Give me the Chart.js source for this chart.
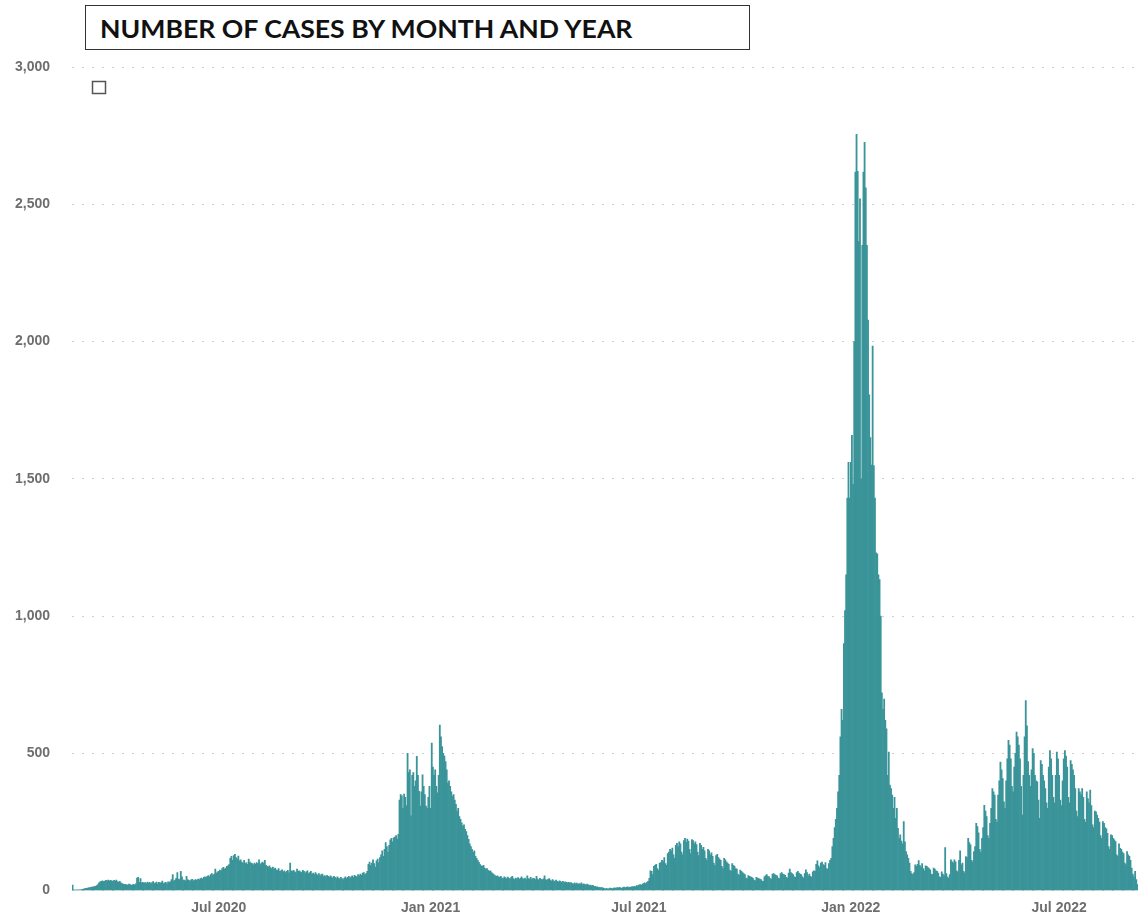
<!DOCTYPE html>
<html>
<head>
<meta charset="utf-8">
<title>Number of cases by month and year</title>
<script src="https://cdn.jsdelivr.net/npm/chart.js@4.4.1/dist/chart.umd.min.js"></script>
<style>
  body { margin: 0; background: #fff; }
  #wrap { position: relative; width: 1138px; height: 921px; }
  #title {
    position: absolute; left: 85px; top: 5px; width: 663px; height: 43px;
    border: 1.5px solid #333; background: #fff;
    display: flex; align-items: center; overflow: hidden;
  }
  #title span {
    margin-left: 14px; white-space: nowrap; transform-origin: left center;
    font: bold 25px Lato, "Liberation Sans", sans-serif; color: #111;
  }
</style>
</head>
<body>
<div id="wrap">
  <canvas id="chart" width="1138" height="921"></canvas>
  <div id="title"><span id="titleText">NUMBER OF CASES BY MONTH AND YEAR</span></div>
</div>
<script>
// daily case counts, one array per month (first day: 25 Feb 2020)
const feb2020 = [20, 3, 2, 2, 3];
const mar2020 = [2, 3, 3, 4, 5, 6, 7, 8, 9, 10, 11, 12, 13, 14, 15, 16, 18, 22, 28, 32, 34, 36, 33, 35, 37, 36, 38, 35, 37, 36, 34];
const apr2020 = [37, 35, 38, 33, 30, 34, 28, 26, 24, 22, 23, 21, 20, 24, 22, 19, 21, 23, 20, 25, 46, 48, 30, 44, 28, 30, 27, 29, 26, 31];
const may2020 = [27, 30, 25, 29, 33, 26, 28, 31, 24, 30, 27, 29, 35, 26, 28, 30, 25, 32, 29, 33, 40, 58, 35, 38, 45, 66, 42, 40, 70, 50, 38];
const jun2020 = [38, 36, 52, 40, 37, 35, 39, 41, 36, 38, 40, 37, 42, 39, 44, 46, 42, 48, 50, 47, 52, 55, 50, 58, 62, 56, 60, 78, 64, 68];
const jul2020 = [70, 75, 72, 80, 85, 78, 82, 88, 90, 95, 118, 125, 110, 128, 132, 120, 115, 126, 108, 112, 104, 100, 110, 98, 102, 96, 115, 104, 100, 98, 94];
const aug2020 = [100, 96, 102, 98, 112, 95, 100, 104, 99, 110, 92, 88, 86, 90, 84, 80, 86, 78, 82, 76, 74, 80, 70, 72, 76, 68, 72, 66, 70, 74, 65];
const sep2020 = [100, 72, 70, 74, 68, 66, 78, 70, 72, 68, 66, 74, 70, 64, 68, 72, 62, 66, 70, 60, 64, 58, 66, 60, 56, 62, 54, 58, 60, 52];
const oct2020 = [55, 50, 56, 52, 48, 54, 50, 46, 52, 48, 44, 50, 46, 42, 48, 44, 40, 46, 50, 44, 48, 52, 46, 50, 54, 48, 56, 52, 50, 58, 54];
const nov2020 = [60, 56, 64, 66, 58, 62, 70, 96, 104, 92, 100, 112, 98, 86, 108, 115, 102, 120, 130, 145, 125, 150, 175, 160, 140, 165, 185, 190, 178, 192];
const dec2020 = [195, 200, 188, 205, 330, 350, 345, 300, 352, 340, 310, 500, 430, 440, 272, 420, 430, 380, 400, 489, 420, 362, 308, 360, 422, 380, 350, 308, 300, 340, 380];
const jan2021 = [300, 537, 450, 420, 440, 380, 356, 420, 603, 560, 525, 500, 490, 470, 440, 392, 400, 380, 360, 344, 350, 330, 314, 290, 300, 270, 260, 247, 235, 240, 223];
const feb2021 = [215, 200, 187, 170, 160, 150, 139, 145, 125, 118, 110, 103, 95, 90, 88, 92, 82, 78, 80, 74, 70, 72, 66, 62, 58, 55, 52, 54];
const mar2021 = [50, 48, 52, 46, 44, 50, 47, 43, 49, 45, 42, 48, 52, 44, 40, 46, 43, 47, 41, 45, 50, 44, 42, 46, 40, 54, 44, 42, 48, 40, 45];
const apr2021 = [44, 40, 52, 42, 38, 45, 41, 39, 43, 54, 40, 37, 41, 44, 38, 35, 40, 36, 33, 38, 34, 31, 36, 33, 30, 34, 29, 32, 30, 28];
const may2021 = [30, 27, 29, 26, 24, 28, 25, 27, 23, 26, 24, 28, 22, 25, 23, 20, 24, 21, 18, 20, 17, 19, 15, 16, 13, 14, 11, 12, 10, 11, 9];
const jun2021 = [7, 6, 8, 5, 7, 9, 8, 6, 9, 10, 8, 11, 9, 12, 10, 8, 11, 13, 10, 12, 14, 11, 13, 12, 15, 13, 16, 14, 18, 17];
const jul2021 = [20, 22, 19, 24, 26, 28, 25, 30, 34, 45, 72, 70, 58, 88, 92, 96, 80, 74, 100, 102, 110, 106, 120, 98, 92, 135, 140, 150, 145, 155, 130];
const aug2021 = [118, 165, 172, 160, 178, 170, 140, 130, 182, 190, 176, 188, 180, 150, 135, 186, 182, 170, 178, 168, 140, 128, 172, 165, 150, 158, 145, 118, 110, 150, 145];
const sep2021 = [130, 138, 125, 100, 92, 128, 132, 120, 115, 110, 88, 80, 118, 112, 105, 100, 96, 75, 70, 98, 92, 88, 80, 78, 60, 56, 75, 70, 66, 62];
const oct2021 = [58, 46, 44, 55, 52, 50, 48, 45, 38, 36, 48, 46, 44, 42, 40, 35, 34, 50, 55, 58, 52, 50, 44, 42, 60, 62, 58, 56, 54, 46, 44];
const nov2021 = [62, 66, 60, 58, 56, 48, 46, 64, 78, 66, 62, 58, 50, 48, 66, 70, 64, 60, 58, 50, 46, 62, 76, 66, 54, 60, 52, 48, 68, 72];
const dec2021 = [70, 96, 108, 90, 84, 100, 104, 95, 92, 102, 80, 78, 98, 110, 118, 160, 190, 230, 260, 300, 360, 420, 560, 660, 620, 900, 1020, 1150, 1430, 1560, 1430];
const jan2022 = [1560, 1658, 1480, 2000, 2617, 2755, 2620, 2364, 2520, 1500, 2350, 2617, 2726, 2560, 2350, 2078, 1806, 1650, 1550, 1983, 1548, 1430, 1230, 1227, 1150, 1133, 1000, 720, 660, 698, 620];
const feb2022 = [589, 420, 505, 384, 372, 348, 300, 340, 263, 300, 227, 190, 203, 180, 170, 251, 178, 142, 130, 118, 100, 70, 62, 58, 66, 94, 88, 96];
const mar2022 = [109, 92, 86, 98, 80, 72, 90, 88, 84, 80, 76, 60, 58, 82, 78, 72, 70, 64, 50, 48, 68, 60, 55, 157, 62, 50, 46, 58, 112, 105, 100];
const apr2022 = [112, 105, 72, 68, 110, 145, 94, 100, 70, 65, 124, 120, 190, 175, 167, 110, 105, 142, 160, 245, 233, 210, 150, 140, 190, 230, 311, 290, 270, 200];
const may2022 = [190, 245, 300, 372, 360, 348, 260, 250, 348, 400, 468, 440, 408, 323, 300, 400, 480, 547, 530, 480, 380, 360, 450, 500, 577, 560, 530, 480, 380, 275, 420];
const jun2022 = [560, 692, 600, 470, 420, 380, 440, 517, 500, 420, 400, 396, 330, 263, 474, 460, 420, 400, 372, 320, 300, 450, 510, 480, 420, 340, 320, 420, 505, 480];
const jul2022 = [420, 330, 310, 400, 480, 510, 490, 450, 340, 320, 474, 460, 440, 420, 372, 290, 270, 372, 360, 350, 372, 340, 260, 250, 360, 335, 320, 366, 310, 240, 230];
const aug2022 = [290, 287, 275, 263, 250, 200, 190, 251, 245, 230, 225, 209, 160, 150, 203, 200, 190, 185, 179, 130, 125, 170, 154, 150, 140, 135, 100, 95, 142, 130, 125];
const sep2022 = [110, 82, 60, 50, 70, 40, 22];

const cases = [].concat(
  feb2020, mar2020, apr2020, may2020, jun2020, jul2020, aug2020, sep2020, oct2020, nov2020, dec2020,
  jan2021, feb2021, mar2021, apr2021, may2021, jun2021, jul2021, aug2021, sep2021, oct2021, nov2021, dec2021,
  jan2022, feb2022, mar2022, apr2022, may2022, jun2022, jul2022, aug2022, sep2022
);

const startDate = Date.UTC(2020, 1, 25);
const days = cases.map((_, i) => new Date(startDate + i * 86400000).toISOString().slice(0, 10));

const tickDates = ["2020-07-01", "2021-01-01", "2021-07-01", "2022-01-01", "2022-07-01"];
const tickLabels = ["Jul 2020", "Jan 2021", "Jul 2021", "Jan 2022", "Jul 2022"];
const yTicks = [0, 500, 1000, 1500, 2000, 2500, 3000];

const tickFont = { family: "'Liberation Sans', Arial, sans-serif", size: 14, weight: "bold" };

// the small empty legend marker in the top-left corner of the plot
const legendMarker = {
  id: "legendMarker",
  afterDraw(chart) {
    const { ctx, chartArea } = chart;
    ctx.save();
    ctx.fillStyle = "#ffffff";
    ctx.strokeStyle = "#555555";
    ctx.lineWidth = 1.5;
    ctx.fillRect(chartArea.left + 20.5, chartArea.top + 14.5, 13, 12);
    ctx.strokeRect(chartArea.left + 20.5, chartArea.top + 14.5, 13, 12);
    ctx.restore();
  }
};

new Chart(document.getElementById("chart"), {
  type: "bar",
  data: {
    labels: days,
    datasets: [{
      label: "Cases",
      data: cases,
      backgroundColor: "#3a9499",
      borderWidth: 0,
      barPercentage: 1,
      categoryPercentage: 1
    }]
  },
  plugins: [legendMarker],
  options: {
    responsive: false,
    animation: false,
    layout: { padding: { top: 67, right: 0, left: 0, bottom: 0 } },
    plugins: {
      tooltip: { enabled: false },
      legend: { display: false }
    },
    scales: {
      x: {
        grid: { display: false, drawTicks: false },
        border: { display: false },
        afterFit: (scale) => { scale.height = 25; },
        ticks: {
          autoSkip: false,
          maxRotation: 0,
          padding: 9,
          color: "#6e6e6e",
          font: tickFont,
          callback: (value, index) => {
            const k = tickDates.indexOf(days[index]);
            return k >= 0 ? tickLabels[k] : null;
          }
        }
      },
      y: {
        min: yTicks[0],
        max: yTicks[yTicks.length - 1],
        afterFit: (scale) => { scale.width = 72; },
        afterBuildTicks: (scale) => { scale.ticks = yTicks.map(v => ({ value: v })); },
        grid: { color: "#cfcfcf", lineWidth: 1, drawTicks: false },
        border: { display: false, dash: [2, 8] },
        ticks: {
          padding: 22,
          color: "#6e6e6e",
          font: tickFont,
          callback: (v) => v.toLocaleString("en-US")
        }
      }
    }
  }
});

// squeeze the title to the width of the original condensed heading
document.fonts.ready.then(() => {
  const t = document.getElementById("titleText");
  t.style.transform = "scaleX(" + (532 / t.offsetWidth) + ")";
});
</script>
</body>
</html>
